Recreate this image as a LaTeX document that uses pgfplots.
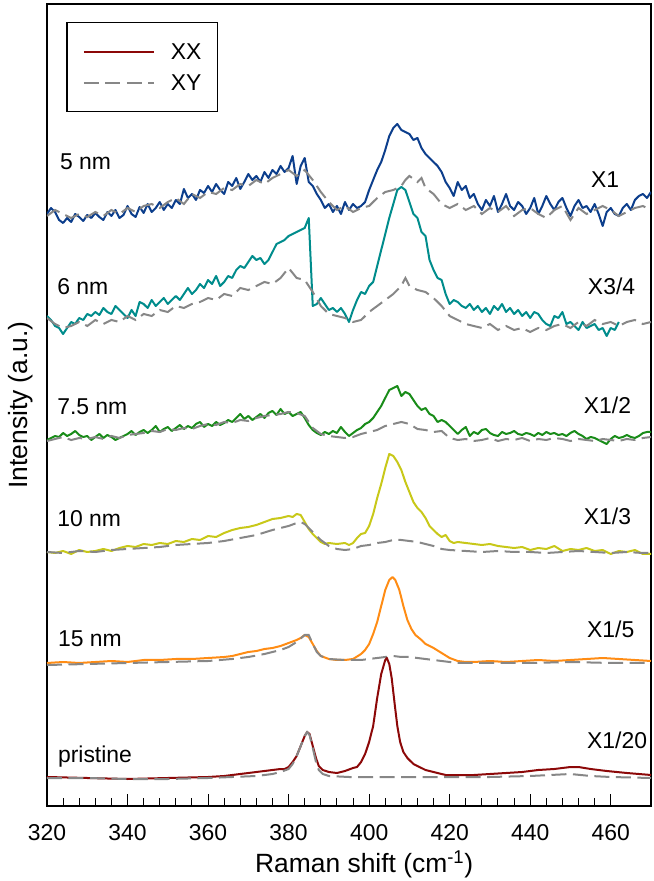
\documentclass[border=0pt]{standalone}
\usepackage{fontspec}
\setmainfont{Liberation Sans}
\usepackage{pgfplots}
\pgfplotsset{compat=1.18}
\definecolor{xxred}{RGB}{140,8,8}
\definecolor{xygray}{RGB}{135,135,135}
\definecolor{c15}{RGB}{255,140,20}
\definecolor{c10}{RGB}{200,200,25}
\definecolor{c75}{RGB}{25,140,25}
\definecolor{c6}{RGB}{0,140,140}
\definecolor{c5}{RGB}{12,62,140}
\begin{document}
\begin{tikzpicture}
\path[use as bounding box] (-47bp,-75bp) rectangle (607bp,806bp);
\begin{axis}[
  scale only axis, width=604bp, height=802bp,
  at={(0,0)}, anchor=south west,
  xmin=320, xmax=470, ymin=28, ymax=830,
  xtick={320,340,...,460}, minor x tick num=4,
  ytick=\empty, xtick pos=bottom, tick align=inside,
  major tick length=12bp, minor tick length=7.5bp,
  every tick/.style={black, line width=1bp},
  axis line style={line width=1.6bp},
  /pgf/number format/assume math mode=true,
  xticklabel style={font=\fontsize{23}{27}\selectfont, anchor=base, yshift=-34bp},
  xlabel={Raman shift (cm\textsuperscript{-1})},
  ylabel={Intensity (a.u.)},
  xlabel style={font=\fontsize{26.5}{30}\selectfont, at={(axis description cs:0.525,0)}, anchor=base, yshift=-66bp},
  ylabel style={font=\fontsize{26.5}{30}\selectfont, at={(axis description cs:-0.0331,0.5)}, anchor=base},
  legend style={at={(axis description cs:0.0315,0.9776)}, anchor=north west, draw=black, line width=1.5bp,
    inner xsep=16bp, inner ysep=21bp, row sep=15bp,
    nodes={inner sep=0pt, text height=16bp, text depth=0pt, font=\fontsize{23}{27}\selectfont},
    /tikz/every odd column/.append style={column sep=16bp}},
  legend cell align=left,
  legend image code/.code={\draw[#1] (0bp,0bp) -- (70bp,0bp);},
  legend entries={XX,XY},
  xxs/.style={line width=2bp, line join=round},
  xys/.style={color=xygray, line width=2bp, dash pattern=on 15bp off 6.5bp},
]
\addlegendimage{xxred, line width=2bp}
\addlegendimage{xys}

% ---- 5 nm ----
\addplot[c5, xxs, forget plot] coordinates {
(320,620)(321,626)(322,622)(323,614)(324,611)(325,616)(326,612)(327,620)(328,617)(329,613)
(330,619)(331,616)(332,621)(333,617)(334,614)(335,622)(336,618)(337,624)(338,616)(339,619)
(340,628)(341,620)(342,617)(343,627)(344,621)(345,630)(346,622)(347,626)(348,632)(349,624)
(350,630)(351,626)(352,634)(353,630)(354,645)(355,636)(356,640)(357,634)(358,644)(359,641)
(360,648)(361,642)(362,650)(363,644)(364,640)(365,652)(366,648)(367,656)(368,645)(369,652)
(370,660)(371,654)(372,658)(373,652)(374,662)(375,656)(376,664)(377,660)(378,668)(379,662)
(380,666)(381,678)(382,650)(383,668)(384,676)(385,652)(386,648)(387,640)(388,634)(389,626)
(390,630)(391,622)(392,628)(393,620)(394,632)(395,624)(396,630)(397,626)(398,628)(399,632)
(400,644)(401,654)(402,664)(403,672)(404,684)(405,698)(406,706)(407,710)(408,704)(409,702)
(410,700)(411,694)(412,696)(413,686)(414,680)(415,676)(416,672)(417,668)(418,662)(419,652)
(420,646)(421,638)(422,652)(423,644)(424,648)(425,636)(426,640)(427,630)(428,624)(429,634)
(430,628)(431,638)(432,622)(433,630)(434,640)(435,628)(436,624)(437,632)(438,628)(439,620)
(440,626)(441,636)(442,620)(443,628)(444,638)(445,630)(446,624)(447,632)(448,636)(449,626)
(450,618)(451,628)(452,634)(453,626)(454,628)(455,622)(456,630)(457,620)(458,608)(459,622)
(460,626)(461,620)(462,618)(463,626)(464,630)(465,624)(466,634)(467,638)(468,640)(469,636)
(470,642)};
\addplot[xys, forget plot] coordinates {
(320,618)(322,624)(324,620)(326,616)(328,620)(330,617)(332,622)(334,618)(336,624)(338,620)
(340,626)(342,622)(344,628)(346,630)(348,626)(350,632)(352,636)(354,630)(356,640)(358,636)
(360,642)(362,640)(364,646)(366,644)(368,650)(370,648)(372,654)(374,650)(376,656)(378,660)
(380,664)(382,658)(384,664)(386,654)(388,642)(390,632)(392,624)(394,628)(396,622)(398,626)
(400,628)(402,636)(404,642)(406,644)(408,648)(409,654)(410,658)(412,652)(413,656)(414,646)
(416,640)(418,630)(420,626)(422,630)(424,624)(426,628)(428,620)(430,626)(432,622)(434,628)
(436,618)(438,624)(440,626)(442,620)(444,616)(446,624)(448,628)(450,614)(452,626)(454,620)
(456,624)(458,628)(460,624)(462,618)(464,622)(466,626)(468,628)(470,624)};

% ---- 6 nm ----
\addplot[c6, xxs, forget plot] coordinates {
(320,518)(321,514)(322,508)(323,506)(324,500)(325,506)(326,512)(327,510)(328,516)(329,514)
(330,520)(331,518)(332,522)(333,519)(334,526)(335,522)(336,520)(337,528)(338,524)(339,520)
(340,516)(341,524)(342,518)(343,532)(344,530)(345,526)(346,534)(347,528)(348,532)(349,536)
(350,530)(351,534)(352,538)(353,534)(354,540)(355,546)(356,540)(357,544)(358,550)(359,546)
(360,554)(361,550)(362,558)(363,548)(364,552)(365,558)(366,556)(367,564)(368,568)(369,566)
(370,572)(371,578)(372,574)(373,576)(374,570)(375,574)(376,582)(377,590)(378,592)(379,594)
(380,598)(381,600)(382,602)(383,604)(384,606)(385,616)(386,528)(387,530)(388,536)(389,530)
(390,524)(391,526)(392,522)(393,526)(394,520)(395,512)(396,524)(397,534)(398,542)(399,540)
(400,548)(401,552)(402,568)(403,584)(404,600)(405,616)(406,630)(407,644)(408,647)(409,644)
(410,632)(411,620)(412,616)(413,602)(414,598)(415,574)(416,564)(417,556)(418,554)(419,540)
(420,530)(421,534)(422,532)(423,528)(424,526)(425,530)(426,524)(427,528)(428,522)(429,526)
(430,520)(431,528)(432,524)(433,530)(434,522)(435,526)(436,520)(437,524)(438,518)(439,522)
(440,516)(441,522)(442,520)(443,514)(444,510)(445,508)(446,518)(447,516)(448,522)(449,510)
(450,512)(451,508)(452,504)(453,512)(454,506)(455,508)(456,510)(457,504)(458,506)(459,498)
(460,506)(461,504)(462,512)};
\addplot[xys, forget plot] coordinates {
(320,516)(322,510)(324,506)(326,508)(328,512)(330,508)(332,514)(334,510)(336,514)(338,512)
(340,518)(342,514)(344,520)(346,518)(348,524)(350,522)(352,528)(354,526)(356,530)(358,532)
(360,536)(362,534)(364,540)(366,538)(368,546)(370,544)(372,548)(374,552)(376,550)(378,556)
(380,566)(382,556)(384,554)(386,542)(388,528)(390,520)(392,518)(394,516)(396,512)(398,514)
(400,522)(402,528)(404,534)(406,540)(408,548)(409,556)(410,548)(412,544)(414,542)(416,536)
(418,528)(420,518)(422,514)(424,510)(426,508)(428,506)(430,510)(432,504)(434,508)(436,504)
(438,506)(440,502)(442,506)(444,504)(446,508)(448,510)(450,506)(452,512)(454,508)(456,514)
(458,510)(460,512)(462,508)(464,512)(466,514)(468,510)(470,512)};

% ---- 7.5 nm ----
\addplot[c75, xxs, forget plot] coordinates {
(320,394)(321,396)(322,398)(323,397)(324,401)(325,398)(326,400)(327,403)(328,399)(329,397)
(330,398)(331,394)(332,397)(333,400)(334,396)(335,399)(336,397)(337,394)(338,396)(339,398)
(340,400)(341,403)(342,399)(343,402)(344,404)(345,401)(346,404)(347,408)(348,402)(349,405)
(350,407)(351,403)(352,406)(353,409)(354,405)(355,408)(356,406)(357,410)(358,412)(359,407)
(360,410)(361,408)(362,412)(363,409)(364,411)(365,414)(366,412)(367,416)(368,420)(369,415)
(370,418)(371,414)(372,417)(373,420)(374,416)(375,421)(376,423)(377,419)(378,425)(379,420)
(380,422)(381,418)(382,420)(383,422)(384,416)(385,409)(386,404)(387,401)(388,399)(389,402)
(390,400)(391,403)(392,401)(393,407)(394,402)(395,398)(396,401)(397,404)(398,406)(399,410)
(400,412)(401,416)(402,422)(403,428)(404,436)(405,444)(406,446)(407,448)(408,438)(409,442)
(410,440)(411,434)(412,428)(413,424)(414,426)(415,420)(416,418)(417,412)(418,414)(419,412)
(420,408)(421,404)(422,400)(423,404)(424,407)(425,398)(426,402)(427,400)(428,404)(429,405)
(430,401)(431,399)(432,398)(433,402)(434,400)(435,401)(436,403)(437,400)(438,399)(439,401)
(440,400)(441,398)(442,401)(443,399)(444,402)(445,400)(446,401)(447,399)(448,400)(449,398)
(450,401)(451,403)(452,400)(453,398)(454,395)(455,397)(456,396)(457,394)(458,392)(459,390)
(460,395)(461,398)(462,396)(463,397)(464,399)(465,397)(466,396)(467,398)(468,401)(469,402)
(470,402)};
\addplot[xys, forget plot] coordinates {
(320,393)(322,395)(324,397)(326,394)(328,396)(330,395)(332,397)(334,395)(336,398)(338,396)
(340,399)(342,400)(344,401)(346,403)(348,402)(350,405)(352,404)(354,406)(356,405)(358,408)
(360,410)(362,409)(364,412)(366,411)(368,414)(370,413)(372,416)(374,418)(376,419)(378,420)
(380,422)(382,421)(384,418)(386,406)(388,400)(390,398)(392,397)(394,396)(396,397)(398,400)
(400,402)(402,404)(404,408)(406,410)(408,412)(410,410)(412,405)(414,404)(416,402)(418,403)
(420,396)(422,394)(424,395)(426,393)(428,394)(430,396)(432,393)(434,395)(436,394)(438,396)
(440,393)(442,395)(444,394)(446,396)(448,395)(450,393)(452,395)(454,394)(456,393)(458,395)
(460,394)(462,393)(464,395)(466,394)(468,396)(470,397)};

% ---- 10 nm ----
\addplot[c10, xxs, forget plot] coordinates {
(320,282)(322,281)(324,283)(326,280)(328,284)(330,282)(332,283)(334,285)(336,283)(338,286)
(340,288)(342,287)(344,290)(346,289)(348,291)(350,290)(352,293)(354,292)(356,295)(358,294)
(360,298)(362,297)(364,301)(366,304)(368,306)(370,307)(372,309)(374,312)(376,315)(378,316)
(380,318)(381,317)(382,320)(383,319)(384,312)(385,305)(386,300)(387,296)(388,292)(389,290)
(390,291)(392,290)(394,291)(395,289)(396,291)(397,296)(398,300)(399,301)(400,308)(401,320)
(402,336)(403,350)(404,366)(405,380)(406,378)(407,372)(408,364)(409,352)(410,342)(411,332)
(412,326)(413,322)(414,316)(415,308)(416,304)(417,300)(418,297)(419,299)(420,293)(421,291)
(422,292)(424,291)(426,290)(428,289)(430,290)(432,288)(434,287)(436,286)(438,287)(440,284)
(442,286)(444,285)(446,288)(448,283)(450,285)(452,284)(454,286)(456,283)(458,284)(460,280)
(462,283)(464,282)(466,284)(468,280)(470,280)};
\addplot[xys, forget plot] coordinates {
(320,282)(324,281)(328,283)(332,282)(336,284)(340,285)(344,286)(348,287)(352,289)(356,290)
(360,291)(364,293)(368,296)(372,299)(376,304)(380,308)(382,311)(383,312)(384,310)(386,302)
(388,294)(390,288)(392,285)(394,284)(396,285)(398,288)(400,289)(402,291)(404,292)(406,294)
(408,294)(410,293)(412,292)(414,290)(416,288)(418,285)(420,284)(424,283)(428,282)(432,283)
(436,282)(440,282)(444,281)(448,282)(452,283)(456,282)(460,281)(464,282)(468,281)(470,281)};

% ---- 15 nm ----
\addplot[c15, xxs, forget plot] coordinates {
(320,171)(324,172)(328,171)(332,172)(336,173)(340,172)(344,174)(348,174)(352,175)(356,175)
(360,176)(364,177)(366,178)(368,180)(370,182)(372,183)(374,185)(376,186)(378,188)(380,191)
(382,194)(383,196)(384,199)(385,197)(386,190)(387,183)(388,178)(390,175)(392,174)(394,174)
(396,175)(398,180)(399,184)(400,190)(401,200)(402,212)(403,228)(404,244)(405,254)(405.8,257)
(406.5,254)(407.5,244)(408.5,228)(409.5,214)(410.5,205)(411.5,199)(413,194)(414,190)(416,186)
(418,181)(420,176)(422,173)(424,172)(426,172)(430,173)(434,172)(438,173)(442,174)(446,173)
(450,174)(454,175)(458,176)(462,175)(466,174)(470,173)};
\addplot[xys, forget plot] coordinates {
(320,169)(330,170)(340,171)(350,172)(360,173)(366,175)(370,177)(374,180)(378,184)(380,187)
(382,192)(384,199)(385,199)(386,190)(387,182)(388,178)(390,175)(394,174)(398,174)(402,176)
(404,177)(406,178)(408,177)(410,177)(414,175)(418,173)(422,171)(430,171)(440,171)(450,172)
(460,171)(470,171)};

% ---- pristine ----
\addplot[xxred, xxs, forget plot] coordinates {
(320,57)(330,56)(340,55)(350,56)(360,57)(364,58)(368,60)(372,62)(376,64)(378,65)(379,65)
(380,67)(381,72)(382,78)(383,88)(384,98)(384.6,102)(385.2,100)(386,88)(386.8,76)(387.5,68)
(388.5,64)(390,62)(392,61)(394,63)(396,66)(397,67)(398,72)(399,80)(400,92)(401,108)(402,136)
(403,160)(404,174)(404.4,176)(405,170)(405.6,156)(406.4,128)(407,108)(407.7,92)(408.5,82)
(409.5,76)(411,70)(412,68)(414,64)(416,62)(419,59)(422,59)(426,59)(430,60)(434,61)(438,62)
(442,64)(446,65)(450,67)(452,67)(455,65)(459,63)(464,61)(470,59)};
\addplot[xys, forget plot] coordinates {
(320,56)(330,56)(340,55)(350,55)(360,56)(366,57)(372,58)(376,60)(378,62)(380,65)(381,70)
(382,78)(383,88)(384,98)(384.6,102)(385.2,99)(386,86)(386.8,72)(387.5,64)(388.5,60)(390,58)
(395,57)(400,57)(410,57)(420,57)(430,57)(440,58)(450,60)(455,58)(460,57)(470,56)};

% ---- labels ----
\begin{scope}[every node/.style={inner sep=0pt, anchor=base west, font=\fontsize{23}{27}\selectfont}]
\node at (axis cs:323.2,664) {5 nm};
\node at (axis cs:322.5,539) {6 nm};
\node at (axis cs:322.5,419) {7.5 nm};
\node at (axis cs:322.5,307) {10 nm};
\node at (axis cs:322.7,187) {15 nm};
\node at (axis cs:322.7,72) {pristine};
\node at (axis cs:455.1,646) {X1};
\node at (axis cs:454.3,539) {X3/4};
\node at (axis cs:453.3,420) {X1/2};
\node at (axis cs:453.3,309) {X1/3};
\node at (axis cs:454.1,196) {X1/5};
\node at (axis cs:454.1,86) {X1/20};
\end{scope}
\end{axis}
\end{tikzpicture}
\end{document}
